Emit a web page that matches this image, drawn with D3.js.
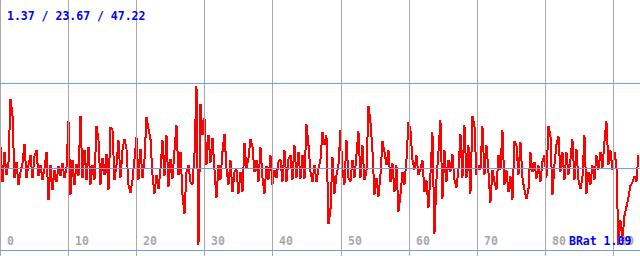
<!DOCTYPE html>
<html>
<head>
<meta charset="utf-8">
<script src="https://cdn.jsdelivr.net/npm/d3@7"></script>
<style>
  html, body { margin: 0; padding: 0; background: #fff; }
  svg { display: block; }
  text { font-family: "DejaVu Sans Mono", monospace; font-weight: bold; }
</style>
</head>
<body>
<svg id="chart" width="640" height="256"></svg>
<script>
// ---- data ----
const statValues = [1.37, 23.67, 47.22];      // min / avg / max
const bitRatioLabel = "BRat";
const bitRatio = 1.09;
const tickValues = [0, 10, 20, 30, 40, 50, 60, 70, 80, 90];
const tickLabels = ["0", "10", "20", "30", "40", "50", "60", "70", "80", "90"];
const sampleStep = 0.2936; // seconds per sample
const bitrate = [
  29.7, 19.6, 28.3, 21.6, 25.1, 43.6, 38.7, 20.8, 25.4, 18.8,
  22.5, 25.1, 30.6, 20.8, 24.5, 27.4, 20.8, 27.1, 28.8, 21.3,
  24.5, 20.2, 23.7, 28.3, 14.4, 24.5, 17.3, 23.1, 19.6, 24.2,
  21.3, 25.1, 20.8, 23.7, 37.2, 15.9, 26.0, 18.8, 24.8, 21.3,
  38.7, 20.8, 28.8, 20.2, 29.7, 18.8, 24.5, 20.2, 35.8, 31.7,
  18.8, 26.5, 21.6, 27.7, 17.3, 35.5, 34.6, 20.2, 24.5, 31.7,
  20.8, 28.8, 32.0, 29.1, 18.8, 16.4, 20.2, 26.2, 32.6, 20.2,
  29.1, 20.8, 26.0, 38.4, 34.9, 32.0, 21.6, 16.2, 21.6, 17.6,
  23.1, 31.7, 21.3, 33.2, 18.2, 26.2, 20.5, 28.8, 36.1, 21.6,
  28.3, 15.9, 10.4, 22.5, 24.5, 19.6, 18.8, 27.7, 47.22, 1.52,
  42.1, 33.2, 38.1, 24.5, 33.2, 25.1, 32.3, 23.1, 15.0, 24.5,
  20.2, 28.3, 33.5, 23.7, 18.8, 26.0, 16.7, 22.5, 23.1, 16.2,
  22.5, 16.7, 30.9, 23.4, 26.5, 32.0, 29.7, 22.5, 26.0, 19.6,
  29.7, 20.8, 16.2, 24.2, 20.2, 27.4, 18.8, 23.1, 20.8, 25.4,
  26.2, 19.6, 28.8, 19.6, 26.2, 27.4, 20.2, 30.3, 20.8, 28.3,
  20.5, 27.4, 20.5, 36.3, 30.3, 22.5, 19.6, 24.5, 19.6, 23.4,
  26.0, 34.0, 30.3, 33.2, 7.5, 11.5, 26.8, 16.2, 21.6, 24.5,
  34.6, 23.1, 18.8, 31.7, 20.8, 19.6, 26.0, 20.8, 27.4, 34.3,
  20.8, 30.3, 20.2, 22.5, 41.5, 36.9, 28.8, 15.9, 20.8, 15.3,
  21.6, 31.4, 28.3, 24.5, 28.8, 19.6, 25.1, 16.7, 24.5, 11.0,
  15.9, 22.5, 18.8, 26.0, 36.9, 34.6, 26.0, 23.1, 27.4, 21.6,
  23.1, 26.0, 16.7, 20.2, 12.1, 21.6, 34.0, 4.6, 20.2, 28.3,
  37.5, 14.7, 28.8, 19.6, 26.0, 22.5, 27.7, 20.2, 17.9, 23.1,
  33.5, 20.8, 36.1, 20.8, 30.3, 16.2, 38.7, 36.1, 21.6, 24.5,
  23.1, 35.8, 21.6, 30.3, 22.5, 13.6, 23.1, 19.6, 17.3, 27.4,
  23.1, 34.6, 18.8, 23.1, 16.7, 21.3, 14.4, 31.4, 30.3, 21.6,
  31.2, 20.8, 17.3, 14.7, 17.3, 28.3, 22.5, 25.4, 20.5, 24.5,
  19.6, 25.4, 27.4, 20.8, 35.8, 33.2, 15.9, 24.5, 30.3, 32.9,
  22.5, 28.3, 20.2, 28.3, 21.6, 26.0, 32.0, 20.2, 29.1, 20.2,
  17.6, 20.8, 33.2, 16.2, 22.5, 18.8, 24.5, 20.2, 27.4, 23.1,
  28.3, 23.7, 31.2, 37.2, 24.5, 28.8, 23.1, 28.3, 24.5, 1.37,
  8.7, 2.9, 9.8, 12.4, 15.0, 18.5, 19.6, 21.3, 19.6, 27.4
];

// ---- layout ----
const W = 640, H = 256;
const plotBottom = 250, plotTop = 83;
const svg = d3.select("#chart");

const x = d3.scaleLinear().domain([0, 90]).range([0, 613]);
const y = d3.scaleLinear().domain([0, statValues[2] * 1.02]).range([plotBottom, plotTop]);

const crisp = v => Math.round(v) + 0.5;

// data line
const line = d3.line()
  .x((d, i) => x(i * sampleStep) + 0.5)
  .y(d => y(d));

svg.append("path")
  .datum(bitrate)
  .attr("d", line)
  .attr("fill", "none")
  .attr("stroke", "#ff0000")
  .attr("stroke-width", 2)
  .attr("stroke-linejoin", "miter")
  .attr("stroke-miterlimit", 2)
  .attr("shape-rendering", "crispEdges");

// vertical grid lines
svg.append("g").selectAll("line")
  .data(tickValues)
  .join("line")
  .attr("x1", d => crisp(x(d)))
  .attr("x2", d => crisp(x(d)))
  .attr("y1", 0)
  .attr("y2", H)
  .attr("stroke", "#a9a9a9")
  .attr("stroke-width", 1)
  .attr("shape-rendering", "crispEdges");

// horizontal reference lines: top of scale, average, zero
const hLines = [y.domain()[1], statValues[1], 0];
svg.append("g").selectAll("line")
  .data(hLines)
  .join("line")
  .attr("x1", 0)
  .attr("x2", W)
  .attr("y1", d => crisp(y(d)))
  .attr("y2", d => crisp(y(d)))
  .attr("stroke", "#66a3ea")
  .attr("stroke-width", 1)
  .attr("shape-rendering", "crispEdges");

// time labels
svg.append("g").selectAll("text")
  .data(tickValues)
  .join("text")
  .attr("x", d => Math.round(x(d)) + 7)
  .attr("y", 245)
  .attr("font-size", "11.5px")
  .attr("fill", "#a9a9a9")
  .text((d, i) => tickLabels[i]);

// stats text
svg.append("text")
  .attr("x", 7)
  .attr("y", 19.5)
  .attr("font-size", "11.5px")
  .attr("fill", "#0000ff")
  .text(statValues.map(v => v.toFixed(2)).join(" / "));

// bit ratio text
svg.append("text")
  .attr("x", 569)
  .attr("y", 245)
  .attr("font-size", "11.5px")
  .attr("fill", "#0000ff")
  .text(bitRatioLabel + " " + bitRatio.toFixed(2));
</script>
</body>
</html>
